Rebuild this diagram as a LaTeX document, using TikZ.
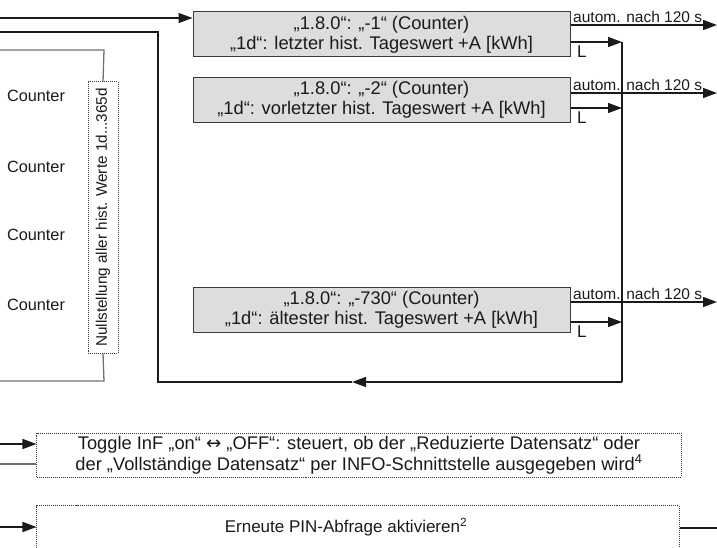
\documentclass[tikz,border=0pt]{standalone}
\usepackage{fontspec}
\setmainfont{Liberation Sans}
\newfontfamily\arrowfont{DejaVu Sans}
\usetikzlibrary{arrows.meta}
\definecolor{ink}{HTML}{1A1A1A}
\definecolor{greyln}{HTML}{707070}
\definecolor{boxfill}{HTML}{DDDDDD}
\definecolor{boxdraw}{HTML}{3A3A3A}
\begin{document}
\begin{tikzpicture}[x=1bp,y=-1bp,
  ln/.style={line width=1.3bp, draw=ink},
  gln/.style={line width=1.3bp, draw=greyln},
  tip/.style={-{Triangle[length=14bp,width=10bp]}},
  grbox/.style={draw=boxdraw, line width=1bp, fill=boxfill, minimum width=377bp, minimum height=45bp, inner sep=0pt, align=center, text=ink, font=\fontsize{18.3bp}{20bp}\selectfont},
  dotbox/.style={draw=boxdraw, densely dotted, line width=1bp, inner sep=0pt, align=center, text=ink},
  cnt/.style={inner sep=0pt, text=ink, font=\fontsize{16.3bp}{19bp}\selectfont},
  auto/.style={inner sep=0pt, anchor=south west, text=ink, font=\fontsize{15.5bp}{18bp}\selectfont},
  lbl/.style={inner sep=0pt, anchor=north west, text=ink, font=\fontsize{17bp}{19bp}\selectfont}
]
\useasboundingbox (0,0) rectangle (717,548);
\clip (0,0) rectangle (717,548);

% grey boxes
\node[grbox] (b1) at (381.5,34.5) {„1.8.0“: „-1“ (Counter)\\„1d“: letzter hist. Tageswert +A [kWh]};
\node[grbox] (b2) at (381.5,100) {„1.8.0“: „-2“ (Counter)\\„1d“: vorletzter hist. Tageswert +A [kWh]};
\node[grbox] (b3) at (381.5,309.5) {„1.8.0“: „-730“ (Counter)\\„1d“: ältester hist. Tageswert +A [kWh]};

% counters
\node[cnt] (c1) at (36,96) {Counter};
\node[cnt] (c2) at (36,167) {Counter};
\node[cnt] (c3) at (36,235) {Counter};
\node[cnt] (c4) at (36,305) {Counter};

% reset box (rotated)
\node[dotbox, rotate=90, minimum width=271bp, minimum height=30bp, font=\fontsize{15.3bp}{18bp}\selectfont] (nul) at (103,217.5) {Nullstellung aller hist. Werte 1d...365d};

% coordinates
\coordinate (in1) at (0,18);
\coordinate (gin) at (0,50);
\coordinate (gtop) at (104,50);
\coordinate (gbot) at (104,381);
\coordinate (gout) at (0,381);
\coordinate (a1) at (717,25);
\coordinate (a2) at (717,93);
\coordinate (a3) at (717,302);
\coordinate (l1) at (622,42);
\coordinate (l2) at (622,108);
\coordinate (l3) at (622,322);
\coordinate (cb) at (622,382);
\coordinate (cm) at (352,382);
\coordinate (cl) at (158,382);
\coordinate (ct) at (158,32);
\coordinate (out) at (0,32);

% input arrow
\draw[ln,tip] (in1) -- (in1 -| b1.west);

% grey reset connectors
\draw[gln] (gin) -- (gtop) -- (nul.east);
\draw[gln] (nul.west) -- (gbot) -- (gout);

% autom. arrows
\draw[ln,tip] (b1.east |- a1) -- (a1);
\draw[ln,tip] (b2.east |- a2) -- (a2);
\draw[ln,tip] (b3.east |- a3) -- (a3);
\node[auto] (t1) at (573,23) {autom. nach 120 s};
\node[auto] (t2) at (573,91) {autom. nach 120 s};
\node[auto] (t3) at (573,300) {autom. nach 120 s};

% L arrows
\draw[ln,tip] (b1.east |- l1) -- (l1);
\draw[ln,tip] (b2.east |- l2) -- (l2);
\draw[ln,tip] (b3.east |- l3) -- (l3);
\node[lbl] (L1) at (577,46) {L};
\node[lbl] (L2) at (577,112) {L};
\node[lbl] (L3) at (577,326) {L};

% return loop
\draw[ln] (l1) -- (cb);
\draw[ln,tip] (cb) -- (cm);
\draw[ln] (cm) -- (cl) -- (ct) -- (out);

% bottom boxes
\node[dotbox, minimum width=644bp, minimum height=44bp, font=\fontsize{18.3bp}{21bp}\selectfont] (inf) at (359,455) {Toggle InF „on“ {\arrowfont ↔} „OFF“: steuert, ob der „Reduzierte Datensatz“ oder\\der „Vollständige Datensatz“ per INFO-Schnittstelle ausgegeben wird\textsuperscript{4}};
\node[dotbox, minimum width=642bp, minimum height=90bp, anchor=north] (pin) at (358,505) {};
\node[inner sep=0pt, text=ink, font=\fontsize{17bp}{20bp}\selectfont] (pint) at (346,527) {Erneute PIN-Abfrage aktivieren\textsuperscript{2}};

\coordinate (i1) at (0,444);
\coordinate (i2) at (0,464);
\coordinate (p1) at (0,527);
\coordinate (p2) at (717,528);
\draw[ln,tip] (i1) -- (i1 -| inf.west);
\draw[gln] (i2) -- (i2 -| inf.west);
\draw[ln,tip] (p1) -- (p1 -| pin.west);
\draw[ln] (p2 -| pin.east) -- (p2);
\end{tikzpicture}
\end{document}
